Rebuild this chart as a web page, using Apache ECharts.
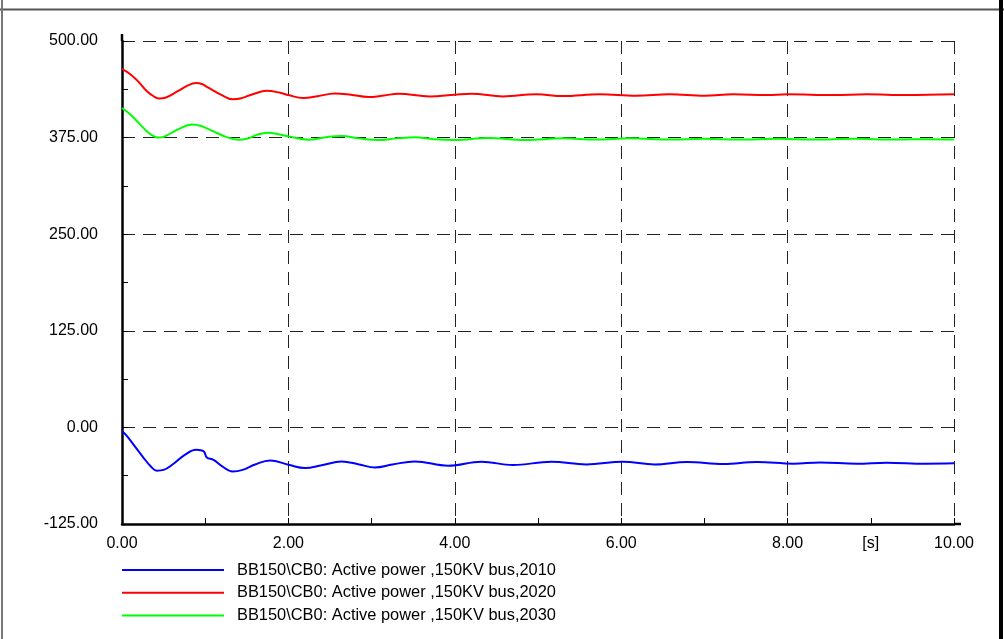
<!DOCTYPE html>
<html>
<head>
<meta charset="utf-8">
<script src="https://cdn.jsdelivr.net/npm/echarts@6/dist/echarts.min.js"></script>
<style>
html,body{margin:0;padding:0;background:#fff;}
#chart{width:1004px;height:639px;}
</style>
</head>
<body>
<div id="chart"></div>
<script>
// ---- data ----
const seriesNames = [
  'BB150\\CB0: Active power ,150KV bus,2010',
  'BB150\\CB0: Active power ,150KV bus,2020',
  'BB150\\CB0: Active power ,150KV bus,2030'
];
const blueT = [0,0.05,0.15,0.25,0.35,0.42,0.5,0.62,0.75,0.89,0.96,0.99,1.02,1.1,1.2,1.33,1.45,1.6,1.78,2.0,2.2,2.4,2.64,2.85,3.04,3.25,3.52,3.92,4.32,4.7,5.16,5.58,6.02,6.4,6.79,7.23,7.63,8.07,8.39,8.83,9.19,9.65,10];
const blueV = [-5,-10,-24,-38,-51,-56,-55,-47,-36,-29,-30,-32,-39,-42,-50,-57,-55,-48,-42.7,-48.3,-52.6,-49,-44,-48,-51.8,-48,-44,-49.6,-44.4,-48.7,-44.4,-47.9,-44.4,-47.9,-44.8,-47.3,-44.8,-47,-45.3,-47,-45.7,-47,-46.5];
const redT = [0,0.1,0.2,0.3,0.38,0.45,0.52,0.67,0.8,0.89,0.97,1.0,1.05,1.2,1.33,1.42,1.58,1.74,1.9,2.0,2.18,2.35,2.56,2.75,2.96,3.15,3.32,3.7,4.0,4.2,4.58,4.98,5.3,5.74,6.18,6.58,7.0,7.35,7.75,8.0,8.55,8.95,9.43,10];
const redV = [464,457,447,435,428.5,425.5,426.5,435,443,445.5,444,442,439,430,424.5,425.5,431.5,435.5,433,430,426.2,428.5,432.2,430.5,427.5,429.5,431.8,428.3,430.5,431.8,428.3,431,428.8,431,429.2,431,429.2,431,430.1,431,430,431,430,431];
const greenT = [0,0.1,0.2,0.3,0.37,0.43,0.5,0.68,0.84,0.95,1.1,1.25,1.4,1.5,1.62,1.75,1.9,2.0,2.24,2.45,2.64,2.85,3.08,3.3,3.52,3.75,4.0,4.4,4.85,5.3,5.7,6.1,6.6,7.0,7.4,7.9,8.3,8.8,9.3,9.7,10];
const greenV = [413.3,405,394,383,377.5,375,376,386,392,390,383,376,372.3,373.5,378.5,381.3,379,376.6,372.3,375.5,377.1,374,371.9,374,375.5,373,372,374.5,372,374,372.5,374,372.5,373.5,372.5,373.5,372.5,373.5,372.5,373,372.5];
const xMin = 0, xMax = 10, xInterval = 2;
const yMin = -125, yMax = 500, yInterval = 125;
const unitLabelAt = 9, unitLabel = '[s]';
const colors = ['#0000FF', '#FF0000', '#00FF00'];

function pairs(t, v){ return t.map((x,i)=>[x, v[i]]); }

const FONT = 'Liberation Sans, Arial, sans-serif';
const FS = 16;
const chart = echarts.init(document.getElementById('chart'));
const dash = [13, 8];

const option = {
  animation: false,
  backgroundColor: '#fff',
  grid: { left: 122, right: 50, top: 41, bottom: 115, containLabel: false },
  xAxis: [{
    type: 'value', min: xMin, max: xMax, interval: xInterval,
    axisLine: { show: true, onZero: false, lineStyle: { color: '#000', width: 2.5 } },
    axisTick: { show: true, inside: true, length: 6, lineStyle: { color: '#000', width: 1 } },
    minorTick: { show: true, splitNumber: 2, length: 6, lineStyle: { color: '#000', width: 1 } },
    axisLabel: { color: '#000', fontSize: FS, fontFamily: FONT, margin: 12,
      formatter: v => v.toFixed(2) },
    splitLine: { show: true, lineStyle: { color: '#222', width: 1, type: dash } }
  }, {
    type: 'value', min: xMin, max: xMax, interval: 1, position: 'bottom', gridIndex: 0,
    axisLine: { show: false }, axisTick: { show: false }, splitLine: { show: false },
    axisLabel: { color: '#000', fontSize: FS, fontFamily: FONT, margin: 12,
      formatter: v => (v === unitLabelAt ? unitLabel : '') }
  }],
  yAxis: {
    type: 'value', min: yMin, max: yMax, interval: yInterval,
    axisLine: { show: true, onZero: false, lineStyle: { color: '#000', width: 2.5 } },
    axisTick: { show: true, inside: true, length: 6, lineStyle: { color: '#000', width: 1 } },
    minorTick: { show: true, splitNumber: 2, length: 6, lineStyle: { color: '#000', width: 1 } },
    axisLabel: { color: '#000', fontSize: FS, fontFamily: FONT, margin: 24,
      formatter: v => v.toFixed(2) },
    splitLine: { show: true, lineStyle: { color: '#222', width: 1, type: dash } }
  },
  legend: {
    orient: 'vertical', left: 122, top: 562, padding: 0, itemWidth: 102, itemHeight: 2, itemGap: 6.7,
    icon: 'rect',
    textStyle: { color: '#000', fontSize: 16.4, fontFamily: FONT, lineHeight: 16, padding: [0,0,0,8] },
    data: seriesNames
  },
  series: [
    { name: seriesNames[0], data: pairs(blueT, blueV) },
    { name: seriesNames[1], data: pairs(redT, redV) },
    { name: seriesNames[2], data: pairs(greenT, greenV) }
  ].map((s, i) => Object.assign(s, {
    type: 'line', xAxisIndex: 0, showSymbol: false, symbol: 'none', smooth: 0.4,
    color: colors[i], lineStyle: { color: colors[i], width: 2 }, z: 5
  }))
};
chart.setOption(option);

// frame and slight axis-line overhang (decoration), positioned from the axes' own scale
const p0 = chart.convertToPixel({ xAxisIndex: 0, yAxisIndex: 0 }, [xMin, yMin]);
const pTop = chart.convertToPixel({ xAxisIndex: 0, yAxisIndex: 0 }, [xMin, yMax]);
const pRight = chart.convertToPixel({ xAxisIndex: 0, yAxisIndex: 0 }, [xMax, yMin]);
chart.setOption({
  graphic: [
    { type: 'line', shape: { x1: 0, y1: 9.5, x2: 1004, y2: 9.5 }, style: { stroke: '#555', lineWidth: 2 } },
    { type: 'line', shape: { x1: 2, y1: 0, x2: 2, y2: 639 }, style: { stroke: '#777', lineWidth: 2 } },
    { type: 'line', shape: { x1: 1001, y1: 0, x2: 1001, y2: 639 }, style: { stroke: '#000', lineWidth: 4 } },
    { type: 'line', shape: { x1: p0[0], y1: pTop[1] - 7, x2: p0[0], y2: pTop[1] }, style: { stroke: '#000', lineWidth: 2.5 } },
    { type: 'line', shape: { x1: pRight[0], y1: p0[1], x2: pRight[0] + 7, y2: p0[1] }, style: { stroke: '#000', lineWidth: 2.5 } }
  ]
});
</script>
</body>
</html>
